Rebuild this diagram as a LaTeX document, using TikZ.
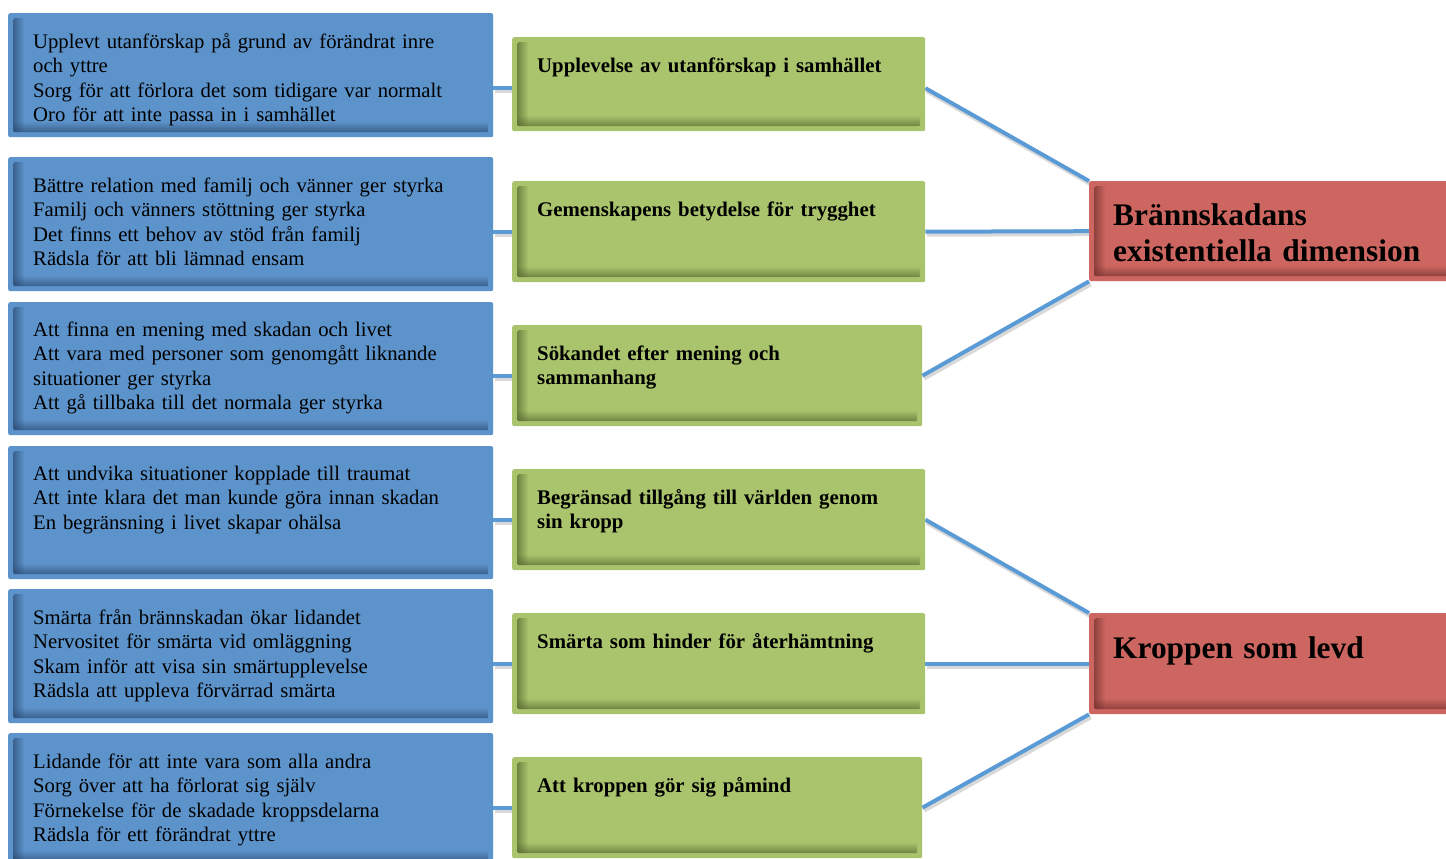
\documentclass[tikz,border=0pt]{standalone}
\usepackage{fontspec}
\setmainfont{Liberation Serif}
\usetikzlibrary{backgrounds,fadings}
\definecolor{bluefill}{RGB}{93,147,203}
\definecolor{bluedark}{RGB}{40,70,108}
\definecolor{greenfill}{RGB}{169,196,108}
\definecolor{greendark}{RGB}{82,98,44}
\definecolor{redfill}{RGB}{205,102,96}
\definecolor{reddark}{RGB}{110,46,44}
\definecolor{lineblue}{RGB}{91,155,213}
\tikzfading[name=fadeR, left color=transparent!0, right color=transparent!100]
\tikzfading[name=fadeU, bottom color=transparent!0, top color=transparent!100]
\tikzset{
  bevel/.style={path picture={
    \begin{scope}
    \clip ([shift={(5pt,5pt)}]path picture bounding box.south west) rectangle
      ([shift={(-5pt,-5pt)}]path picture bounding box.north east);
    \fill[#1, path fading=fadeR]
      ([shift={(-1pt,0pt)}]path picture bounding box.south west) rectangle
      ([shift={(16pt,0pt)}]path picture bounding box.north west);
    \fill[#1, path fading=fadeU]
      ([shift={(0pt,-1pt)}]path picture bounding box.south west) rectangle
      ([shift={(0pt,16pt)}]path picture bounding box.south east);
    \end{scope}
  }},
  boxbase/.style={anchor=north west, inner sep=0, rounded corners=2pt},
  bluebox/.style={boxbase, fill=bluefill, bevel=bluedark},
  greenbox/.style={boxbase, fill=greenfill, bevel=greendark},
  redbox/.style={boxbase, fill=redfill, bevel=reddark},
  btext/.style={anchor=north west, inner sep=0, align=left, text width=470pt,
    font=\fontsize{20.7}{24.5}\selectfont},
  gtext/.style={anchor=north west, inner sep=0, align=left, text width=380pt,
    font=\fontsize{20.8}{24.3}\selectfont\bfseries},
  rtext/.style={anchor=north west, inner sep=0, align=left, text width=340pt,
    font=\fontsize{31.4}{36}\selectfont\bfseries},
  conn/.style={draw=lineblue, line width=4pt,
    preaction={draw=black, draw opacity=0.15, line width=5pt,
      transform canvas={xshift=1.5pt, yshift=-2.5pt}}},
}
\begin{document}
\begin{tikzpicture}[x=1pt, y=-1pt]
\useasboundingbox (0,0) rectangle (1446,859);
\clip (0,0) rectangle (1446,859);
% blue boxes
\node[bluebox, minimum width=485pt, minimum height=124pt] (b1) at (8,13) {};
\node[bluebox, minimum width=485pt, minimum height=134pt] (b2) at (8,157) {};
\node[bluebox, minimum width=485pt, minimum height=133pt] (b3) at (8,302) {};
\node[bluebox, minimum width=485pt, minimum height=133pt] (b4) at (8,446) {};
\node[bluebox, minimum width=485pt, minimum height=134pt] (b5) at (8,589) {};
\node[bluebox, minimum width=485pt, minimum height=133pt] (b6) at (8,733) {};
% green boxes
\node[greenbox, minimum width=413pt, minimum height=94pt] (g1) at (512,37) {};
\node[greenbox, minimum width=413pt, minimum height=101pt] (g2) at (512,181) {};
\node[greenbox, minimum width=410pt, minimum height=101pt] (g3) at (512,325) {};
\node[greenbox, minimum width=413pt, minimum height=101pt] (g4) at (512,469) {};
\node[greenbox, minimum width=413pt, minimum height=101pt] (g5) at (512,613) {};
\node[greenbox, minimum width=410pt, minimum height=101pt] (g6) at (512,757) {};
% red boxes
\node[redbox, minimum width=380pt, minimum height=100pt] (r1) at (1089,181) {};
\node[redbox, minimum width=380pt, minimum height=101pt] (r2) at (1089,613) {};
% texts
\node[btext] (tb1) at (33,30.85) {\strut Upplevt utanförskap på grund av förändrat inre\\och yttre\\Sorg för att förlora det som tidigare var normalt\\Oro för att inte passa in i samhället};
\node[btext] (tb2) at (33,174.85) {\strut Bättre relation med familj och vänner ger styrka\\Familj och vänners stöttning ger styrka\\Det finns ett behov av stöd från familj\\Rädsla för att bli lämnad ensam};
\node[btext] (tb3) at (33,318.85) {\strut Att finna en mening med skadan och livet\\Att vara med personer som genomgått liknande\\situationer ger styrka\\Att gå tillbaka till det normala ger styrka};
\node[btext] (tb4) at (33,462.85) {\strut Att undvika situationer kopplade till traumat\\Att inte klara det man kunde göra innan skadan\\En begränsning i livet skapar ohälsa};
\node[btext] (tb5) at (33,606.85) {\strut Smärta från brännskadan ökar lidandet\\Nervositet för smärta vid omläggning\\Skam inför att visa sin smärtupplevelse\\Rädsla att uppleva förvärrad smärta};
\node[btext] (tb6) at (33,750.85) {\strut Lidande för att inte vara som alla andra\\Sorg över att ha förlorat sig själv\\Förnekelse för de skadade kroppsdelarna\\Rädsla för ett förändrat yttre};
\node[gtext] (tg1) at (537,55) {\strut Upplevelse av utanförskap i samhället};
\node[gtext] (tg2) at (537,199) {\strut Gemenskapens betydelse för trygghet};
\node[gtext] (tg3) at (537,343) {\strut Sökandet efter mening och\\sammanhang};
\node[gtext] (tg4) at (537,487) {\strut Begränsad tillgång till världen genom\\sin kropp};
\node[gtext] (tg5) at (537,631) {\strut Smärta som hinder för återhämtning};
\node[gtext] (tg6) at (537,775) {\strut Att kroppen gör sig påmind};
\node[rtext] (tr1) at (1113,199.8) {\strut Brännskadans\\existentiella dimension};
\node[rtext] (tr2) at (1113,632.8) {\strut Kroppen som levd};
% connectors
\begin{scope}[on background layer]
\coordinate (c1) at ([yshift=-4pt]g1.west);
\coordinate (c1e) at ([yshift=-4pt]g1.east);
\draw[conn] (c1) -- (c1 -| b1.east);
\draw[conn] (g2.west) -- (g2.west -| b2.east);
\draw[conn] (g3.west) -- (g3.west -| b3.east);
\draw[conn] (g4.west) -- (g4.west -| b4.east);
\draw[conn] (g5.west) -- (g5.west -| b5.east);
\draw[conn] (g6.west) -- (g6.west -| b6.east);
\draw[conn] (c1e) -- (r1.north west);
\draw[conn] (g2.east) -- (r1.west);
\draw[conn] (g3.east) -- (r1.south west);
\draw[conn] (g4.east) -- (r2.north west);
\draw[conn] (g5.east) -- (r2.west);
\draw[conn] (g6.east) -- (r2.south west);
\end{scope}
\end{tikzpicture}
\end{document}
